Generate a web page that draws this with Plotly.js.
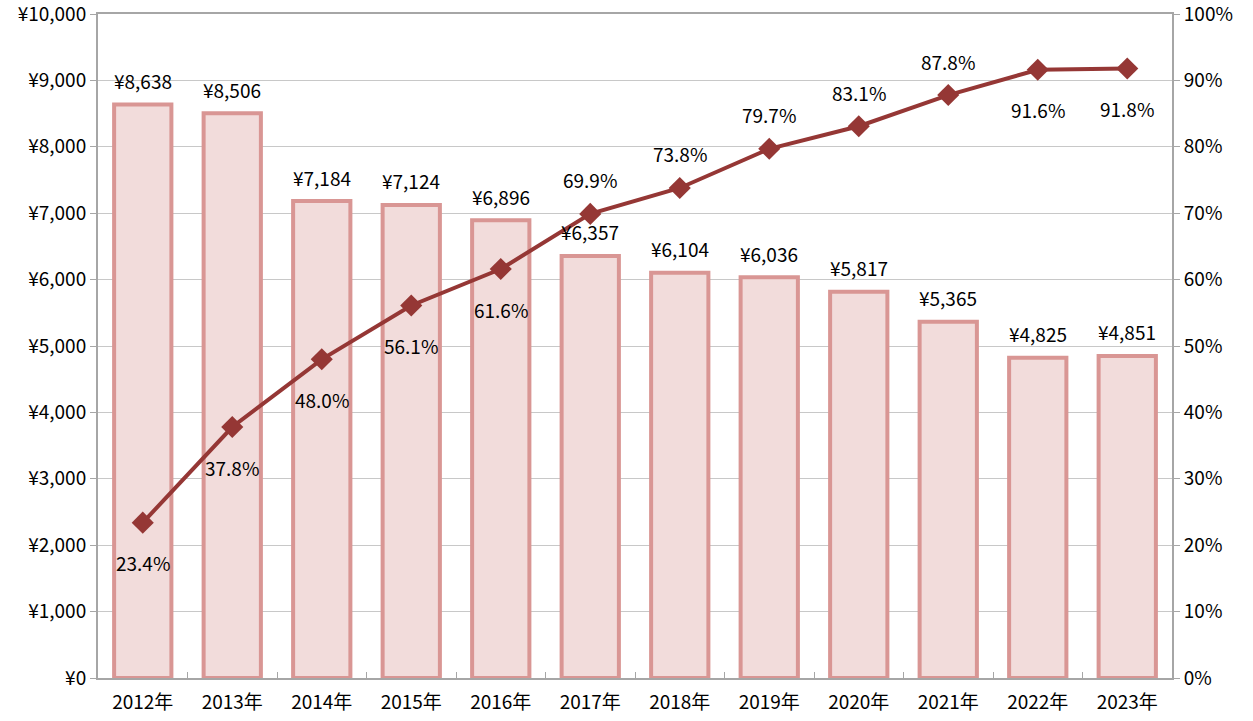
<!DOCTYPE html>
<html>
<head>
<meta charset="utf-8">
<script src="https://cdn.plot.ly/plotly-3.0.1.min.js"></script>
<style>html,body{margin:0;padding:0;background:#fff;}#chart{width:1253px;height:721px;}</style>
</head>
<body>
<div id="chart"></div>
<script>
const years = ["2012年","2013年","2014年","2015年","2016年","2017年","2018年","2019年","2020年","2021年","2022年","2023年"];
const amounts = [8638, 8506, 7184, 7124, 6896, 6357, 6104, 6036, 5817, 5365, 4825, 4851];
const rates = [23.4, 37.8, 48.0, 56.1, 61.6, 69.9, 73.8, 79.7, 83.1, 87.8, 91.6, 91.8];
const rateLabelAbove = [false,false,false,false,false,true,true,true,true,true,false,false];
const yenTicks = [0,1000,2000,3000,4000,5000,6000,7000,8000,9000,10000];
const pctTicks = [0,10,20,30,40,50,60,70,80,90,100];

const FONT = "'Noto Sans CJK JP', sans-serif";
const FS = 19;
const fmtYen = v => "¥" + v.toLocaleString("en-US");

const annotations = [];
years.forEach((y, i) => {
  annotations.push({x: y, y: amounts[i], xref: "x", yref: "y", text: fmtYen(amounts[i]),
    showarrow: false, yshift: 24, font: {family: FONT, size: FS, color: "#000"}});
  annotations.push({x: y, y: rates[i], xref: "x", yref: "y2", text: rates[i].toFixed(1) + "%",
    showarrow: false, yshift: rateLabelAbove[i] ? 34 : -40, font: {family: FONT, size: FS, color: "#000"}});
});

const traces = [
  {type: "bar", x: years, y: amounts, yaxis: "y", hoverinfo: "skip",
   marker: {color: "#f2dcdb", line: {color: "#d99694", width: 4}}},
  {type: "scatter", mode: "lines+markers", x: years, y: rates, yaxis: "y2", hoverinfo: "skip",
   line: {color: "#953735", width: 4},
   marker: {symbol: "diamond", size: 17, color: "#953735"}}
];

const layout = {
  width: 1253, height: 721,
  margin: {l: 98, r: 81, t: 14, b: 43},
  paper_bgcolor: "#fff", plot_bgcolor: "#fff",
  showlegend: false,
  bargap: 0.36,
  font: {family: FONT, size: FS, color: "#000"},
  xaxis: {type: "category", range: [-0.5, 11.5], autorange: false,
    showline: true, linecolor: "#a6a6a6", linewidth: 2, mirror: true,
    ticks: "inside", tickson: "boundaries", ticklen: 6, tickcolor: "#a6a6a6", tickwidth: 1,
    showgrid: false, tickfont: {family: FONT, size: FS, color: "#000"}, ticklabelstandoff: 6},
  yaxis: {range: [0, 10000.5], autorange: false, tickvals: yenTicks,
    ticktext: yenTicks.map(fmtYen), ticklabeloverflow: "allow",
    showline: true, linecolor: "#a6a6a6", linewidth: 2, ticks: "outside", ticklen: 6,
    tickcolor: "#a6a6a6", gridcolor: "#c8c8c8", gridwidth: 1, zeroline: false,
    tickfont: {family: FONT, size: FS, color: "#000"}},
  yaxis2: {range: [0, 100.005], autorange: false, overlaying: "y", side: "right",
    tickvals: pctTicks, ticklabeloverflow: "allow",
    ticktext: pctTicks.map(v => v + "%"),
    showline: true, linecolor: "#a6a6a6", linewidth: 2, ticks: "outside", ticklen: 6,
    tickcolor: "#a6a6a6", showgrid: false, zeroline: false,
    tickfont: {family: FONT, size: FS, color: "#000"}},
  annotations: annotations
};

Plotly.newPlot("chart", traces, layout, {staticPlot: true, displayModeBar: false});
</script>
</body>
</html>
